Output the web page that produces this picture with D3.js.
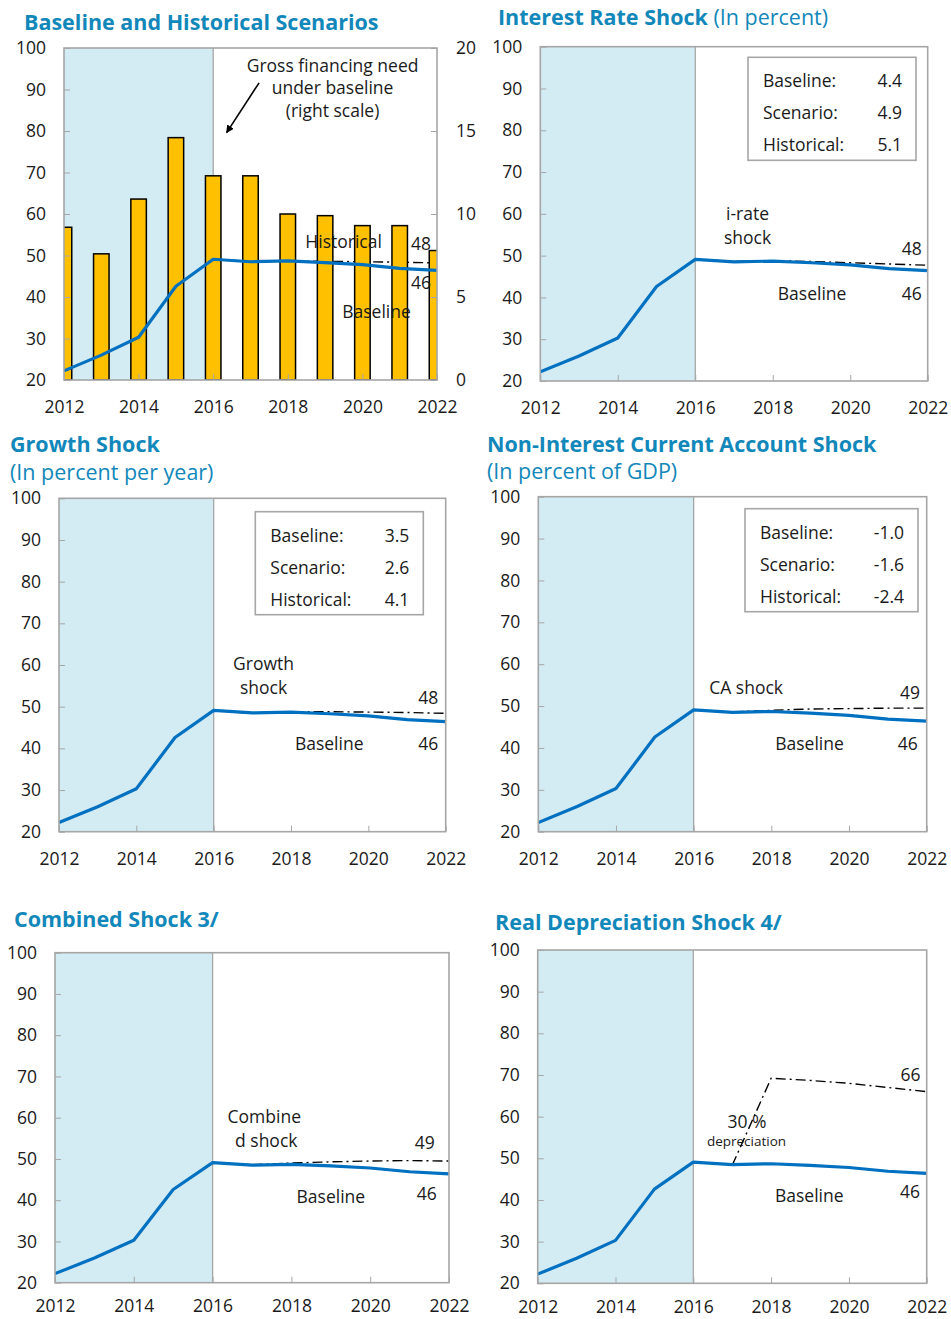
<!DOCTYPE html>
<html>
<head>
<meta charset="utf-8">
<script src="https://cdn.jsdelivr.net/npm/d3@7"></script>
<style>
  body { margin: 0; background: #fff; }
  svg text { font-family: "Open Sans", "Noto Sans", sans-serif; fill: #1a1a1a; }
</style>
</head>
<body>
<div id="chart"></div>
<script>
// Data
const years = [2012, 2013, 2014, 2015, 2016, 2017, 2018, 2019, 2020, 2021, 2022];
const baselineDebt = [22.2, 26.0, 30.3, 42.6, 49.1, 48.5, 48.7, 48.3, 47.8, 46.9, 46.4];
const grossFinancing = [9.2, 7.6, 10.9, 14.6, 12.3, 12.3, 10.0, 9.9, 9.3, 9.3, 7.8];
const historicalDebt = [null, null, null, null, 49.1, 48.6, 48.7, 48.6, 48.5, 48.4, 48.2];
const irateShock = [null, null, null, null, 49.1, 48.6, 48.8, 48.6, 48.3, 48.0, 47.7];
const growthShock = [null, null, null, null, 49.1, 48.4, 48.8, 48.8, 48.7, 48.6, 48.4];
const caShock = [null, null, null, null, 49.1, 48.6, 49.0, 49.3, 49.4, 49.5, 49.5];
const combinedShock = [null, null, null, null, 49.1, 48.6, 49.0, 49.3, 49.5, 49.6, 49.5];
const depreciationShock = [null, null, null, null, null, 48.3, 69.2, 68.7, 68.0, 67.0, 66.0];

const legendLabels = ["Baseline:", "Scenario:", "Historical:"];
const irateLegend = ["4.4", "4.9", "5.1"];
const growthLegend = ["3.5", "2.6", "4.1"];
const caLegend = ["-1.0", "-1.6", "-2.4"];

const leftTicks = [20, 30, 40, 50, 60, 70, 80, 90, 100];
const rightTicks = [0, 5, 10, 15, 20];
const yearTicks = [2012, 2014, 2016, 2018, 2020, 2022];

// Colors
const titleColor = "#1187ba";
const lineBlue = "#0070c0";
const shadeBlue = "#d3ecf4";
const barYellow = "#ffc000";
const frameGray = "#a6a6a6";

const width = 951, height = 1319;

const svg = d3.select("#chart").append("svg")
    .attr("width", width)
    .attr("height", height);

// Panel layout
const panels = [
    {
        box: [64, 437, 48, 380], xPad: 21,
        title: [{ t: "Baseline and Historical Scenarios", b: true }], titleAt: [24, 30],
        scenario: historicalDebt, bars: true,
        notes: [
            { t: "Historical", at: [2018.47, 51.8] },
            { t: "48", at: [2021.3, 51.3] },
            { t: "46", at: [2021.3, 42.0] },
            { t: "Baseline", at: [2019.46, 34.9] },
            { t: "Gross financing need", at: [2019.2, 94.3], anchor: "middle" },
            { t: "under baseline", at: [2019.2, 88.8], anchor: "middle" },
            { t: "(right scale)", at: [2019.2, 83.3], anchor: "middle" }
        ],
        arrow: [[2017.23, 91.6], [2016.36, 79.6]]
    },
    {
        box: [540.3, 927.7, 46.7, 381], xPad: 21,
        title: [{ t: "Interest Rate Shock", b: true }, { t: " (In percent)", b: false }], titleAt: [498, 25],
        scenario: irateShock, legend: irateLegend, legendBox: [11.7, 10.6, 168, 103],
        notes: [
            { t: "i-rate", at: [2017.35, 58.5], anchor: "middle" },
            { t: "shock", at: [2017.35, 52.9], anchor: "middle" },
            { t: "48", at: [2021.85, 50.1], anchor: "end" },
            { t: "Baseline", at: [2018.13, 39.3] },
            { t: "46", at: [2021.85, 39.3], anchor: "end" }
        ]
    },
    {
        box: [59, 445.7, 498.3, 831.7], xPad: 21,
        title: [{ t: "Growth Shock", b: true }], titleAt: [10, 452],
        subtitle: "(In percent per year)", subAt: [10, 480],
        scenario: growthShock, legend: growthLegend, legendBox: [22.4, 13.4, 168, 103],
        notes: [
            { t: "Growth", at: [2016.5, 58.8] },
            { t: "shock", at: [2016.68, 53.0] },
            { t: "48", at: [2021.81, 50.7], anchor: "end" },
            { t: "Baseline", at: [2018.1, 39.6] },
            { t: "46", at: [2021.81, 39.6], anchor: "end" }
        ]
    },
    {
        box: [538.3, 926.7, 496.7, 831.7], xPad: 21,
        title: [{ t: "Non-Interest Current Account Shock", b: true }], titleAt: [487, 452],
        subtitle: "(In percent of GDP)", subAt: [487, 479],
        scenario: caShock, legend: caLegend, legendBox: [8.7, 12, 173, 103],
        notes: [
            { t: "CA shock", at: [2016.4, 52.9] },
            { t: "49", at: [2021.83, 51.6], anchor: "end" },
            { t: "Baseline", at: [2018.1, 39.6] },
            { t: "46", at: [2021.77, 39.6], anchor: "end" }
        ]
    },
    {
        box: [55, 449, 952.7, 1282.7], xPad: 17,
        title: [{ t: "Combined Shock 3/", b: true }], titleAt: [14, 927],
        scenario: combinedShock,
        notes: [
            { t: "Combine", at: [2016.38, 58.8] },
            { t: "d shock", at: [2016.57, 53.0] },
            { t: "49", at: [2021.64, 52.3], anchor: "end" },
            { t: "Baseline", at: [2018.13, 39.4] },
            { t: "46", at: [2021.69, 40.0], anchor: "end" }
        ]
    },
    {
        box: [537.7, 926.7, 950, 1283.3], xPad: 17,
        title: [{ t: "Real Depreciation Shock 4/", b: true }], titleAt: [495, 930],
        scenario: depreciationShock,
        notes: [
            { t: "30 %", at: [2016.88, 57.2] },
            { t: "depreciation", at: [2016.35, 53.0], size: 13.5 },
            { t: "66", at: [2021.84, 68.5], anchor: "end" },
            { t: "Baseline", at: [2018.1, 39.5] },
            { t: "46", at: [2021.83, 40.4], anchor: "end" }
        ]
    }
];

// Arrow marker
svg.append("defs").append("marker")
    .attr("id", "arrowhead")
    .attr("viewBox", "0 0 10 10")
    .attr("refX", 9).attr("refY", 5)
    .attr("markerWidth", 5).attr("markerHeight", 5)
    .attr("orient", "auto")
    .append("path")
    .attr("d", "M0,0 L10,5 L0,10 z")
    .attr("fill", "#000");

panels.forEach((p, i) => {
    const [x0, x1, y0, y1] = p.box;
    const x = d3.scaleLinear().domain([2012, 2022]).range([x0, x1]);
    const y = d3.scaleLinear().domain([20, 100]).range([y1, y0]);
    const g = svg.append("g").attr("class", `panel panel-${i}`);

    // Title
    const title = g.append("text")
        .attr("x", p.titleAt[0])
        .attr("y", p.titleAt[1])
        .style("font-size", "21.5px");
    p.title.forEach(part => {
        title.append("tspan")
            .style("font-weight", part.b ? "bold" : "normal")
            .style("fill", titleColor)
            .text(part.t);
    });
    if (p.subtitle) {
        g.append("text")
            .attr("x", p.subAt[0])
            .attr("y", p.subAt[1])
            .style("font-size", "21.5px")
            .style("fill", titleColor)
            .text(p.subtitle);
    }

    // Clip
    const clipId = `clip-${i}`;
    g.append("clipPath").attr("id", clipId)
        .append("rect")
        .attr("x", x0).attr("y", y0)
        .attr("width", x1 - x0).attr("height", y1 - y0);

    // Historical shading
    g.append("rect")
        .attr("x", x(2012)).attr("y", y0)
        .attr("width", x(2016) - x(2012)).attr("height", y1 - y0)
        .attr("fill", shadeBlue);
    g.append("line")
        .attr("x1", x(2016)).attr("x2", x(2016))
        .attr("y1", y0).attr("y2", y1)
        .attr("stroke", frameGray).attr("stroke-width", 1.3);

    const line = d3.line()
        .defined(d => d[1] != null)
        .x(d => x(d[0]))
        .y(d => y(d[1]));

    const plot = g.append("g").attr("clip-path", `url(#${clipId})`);

    // Scenario line (dash-dot)
    plot.append("path")
        .datum(years.map((yr, k) => [yr, p.scenario[k]]))
        .attr("d", line)
        .attr("fill", "none")
        .attr("stroke", "#000")
        .attr("stroke-width", 1.4)
        .attr("stroke-dasharray", "10,4,2,4");

    // Gross financing bars (right scale)
    if (p.bars) {
        const yr = d3.scaleLinear().domain([0, 20]).range([y1, y0]);
        const bw = 15.5;
        plot.selectAll("rect.bar")
            .data(years.map((yy, k) => ({ year: yy, v: grossFinancing[k] })))
            .enter().append("rect")
            .attr("class", "bar")
            .attr("x", d => x(d.year) - bw / 2)
            .attr("y", d => yr(d.v))
            .attr("width", bw)
            .attr("height", d => y1 - yr(d.v))
            .attr("fill", barYellow)
            .attr("stroke", "#000")
            .attr("stroke-width", 1.5);

        const rightAxis = g.append("g")
            .attr("transform", `translate(${x1},0)`)
            .call(d3.axisRight(yr).tickValues(rightTicks).tickSize(-6).tickPadding(19).tickFormat(d3.format("d")));
        rightAxis.select(".domain").remove();
        rightAxis.selectAll("line").attr("stroke", frameGray);
        rightAxis.selectAll("text").style("font-size", "17.5px").style("fill", "#1a1a1a");
    }

    // Baseline line
    plot.append("path")
        .datum(years.map((yr, k) => [yr, baselineDebt[k]]))
        .attr("d", line)
        .attr("fill", "none")
        .attr("stroke", lineBlue)
        .attr("stroke-width", 3.2)
        .attr("stroke-linejoin", "round");

    // Frame
    g.append("rect")
        .attr("x", x0).attr("y", y0)
        .attr("width", x1 - x0).attr("height", y1 - y0)
        .attr("fill", "none")
        .attr("stroke", frameGray)
        .attr("stroke-width", 1.6);

    // Axes
    const leftAxis = g.append("g")
        .attr("transform", `translate(${x0},0)`)
        .call(d3.axisLeft(y).tickValues(leftTicks).tickSize(-6).tickPadding(18));
    leftAxis.select(".domain").remove();
    leftAxis.selectAll("line").attr("stroke", frameGray);
    leftAxis.selectAll("text").style("font-size", "17.5px").style("fill", "#1a1a1a");

    const bottomAxis = g.append("g")
        .attr("transform", `translate(0,${y1})`)
        .call(d3.axisBottom(x).tickValues(yearTicks).tickSize(-6).tickPadding(p.xPad).tickFormat(d3.format("d")));
    bottomAxis.select(".domain").remove();
    bottomAxis.selectAll("line").attr("stroke", frameGray);
    bottomAxis.selectAll("text").style("font-size", "17.5px").style("fill", "#1a1a1a");

    // Legend box
    if (p.legend) {
        const [rOff, tOff, bw, bh] = p.legendBox;
        const bx = x1 - rOff - bw, by = y0 + tOff;
        const lg = g.append("g").attr("transform", `translate(${bx},${by})`);
        lg.append("rect")
            .attr("width", bw).attr("height", bh)
            .attr("fill", "#fff")
            .attr("stroke", frameGray)
            .attr("stroke-width", 1.6);
        const rows = lg.selectAll("g.row")
            .data(legendLabels.map((l, k) => ({ label: l, value: p.legend[k] })))
            .enter().append("g")
            .attr("transform", (d, k) => `translate(0,${30 + k * 32})`);
        rows.append("text")
            .attr("x", 15)
            .style("font-size", "17.5px")
            .text(d => d.label);
        rows.append("text")
            .attr("x", bw - 14)
            .attr("text-anchor", "end")
            .style("font-size", "17.5px")
            .text(d => d.value);
    }

    // Annotations
    g.selectAll("text.note")
        .data(p.notes)
        .enter().append("text")
        .attr("class", "note")
        .attr("x", d => x(d.at[0]))
        .attr("y", d => y(d.at[1]))
        .attr("text-anchor", d => d.anchor || "start")
        .style("font-size", d => (d.size || 17.5) + "px")
        .text(d => d.t);

    if (p.arrow) {
        g.append("line")
            .attr("x1", x(p.arrow[0][0])).attr("y1", y(p.arrow[0][1]))
            .attr("x2", x(p.arrow[1][0])).attr("y2", y(p.arrow[1][1]))
            .attr("stroke", "#000")
            .attr("stroke-width", 1.6)
            .attr("marker-end", "url(#arrowhead)");
    }
});
</script>
</body>
</html>
